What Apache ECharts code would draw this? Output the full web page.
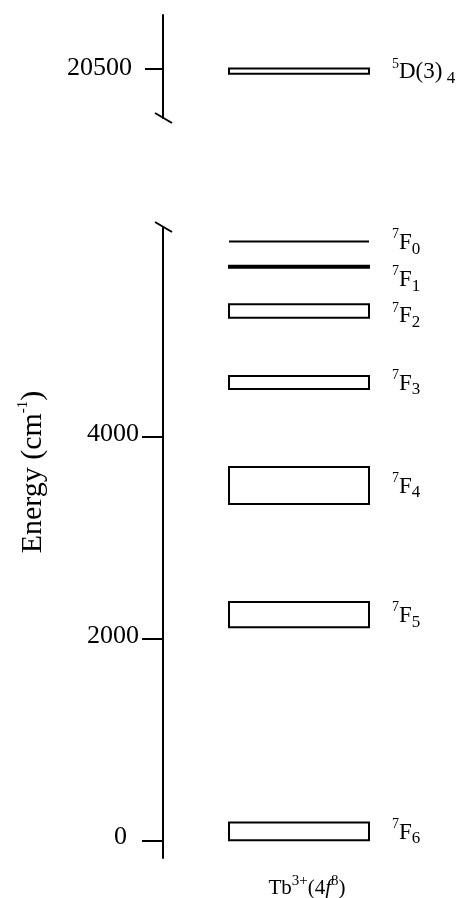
<!DOCTYPE html>
<html>
<head>
<meta charset="utf-8">
<script src="https://cdn.jsdelivr.net/npm/echarts@6/dist/echarts.min.js"></script>
<style>
  html, body { margin: 0; background: #fff; }
  #main { width: 460px; height: 898px; }
</style>
</head>
<body>
<div id="main"></div>
<script>
// Tb3+ 7F_J ground multiplet, energy spread of each level (cm-1)
const lowerJ = ['0', '1', '2', '3', '4', '5', '6'];
const lowerLow = [5940, 5680, 5185, 4478, 3337, 2114, 0];
const lowerHigh = [5940, 5700, 5318, 4607, 3704, 2365, 176];
// emitting level 5D(3)4
const upperTerm = ['5D(3)4'];
const upperLow = [20450];
const upperHigh = [20500];
const lowerTicks = [0, 2000, 4000];
const upperTicks = [20500];

const serif = '"Liberation Serif", "DejaVu Serif", serif';

const richText = {
  m: { fontSize: 23, fontFamily: serif, color: '#000', lineHeight: 30 },
  s: { fontSize: 14, fontFamily: serif, color: '#000', verticalAlign: 'top' },
  b: { fontSize: 17, fontFamily: serif, color: '#000', verticalAlign: 'bottom' }
};

function labelFor(kind, idx) {
  if (kind === 'upper') {
    return '{s|5}{m|D(3)}{b| 4}';
  }
  return '{s|7}{m|F}{b|' + lowerJ[idx] + '}';
}

function makeRender(kind) {
  return function (params, api) {
    const cs = params.coordSys;
    const top = api.coord([0, api.value(2)])[1];
    const bot = api.coord([0, api.value(1)])[1];
    const idx = api.value(3);
    const x0 = cs.x + 66, x1 = cs.x + 206;
    let shape;
    if (bot - top < 1) {
      shape = { type: 'line', shape: { x1: x0, y1: top, x2: x1, y2: top },
        style: { stroke: '#000', lineWidth: 2 } };
    } else {
      shape = { type: 'rect', shape: { x: x0, y: top, width: x1 - x0, height: bot - top },
        style: { fill: '#fff', stroke: '#000', lineWidth: 2 } };
    }
    let dy = 1;
    if (kind === 'lower' && idx === 1) dy = 13;
    if (kind === 'lower' && idx === 2) dy = 5;
    return {
      type: 'group',
      children: [shape, {
        type: 'text',
        x: cs.x + 229,
        y: (top + bot) / 2 + dy,
        style: {
          text: labelFor(kind, idx),
          rich: richText,
          fill: '#000',
          align: 'left',
          verticalAlign: 'middle'
        }
      }]
    };
  };
}

const chart = echarts.init(document.getElementById('main'));

const axisCommon = {
  type: 'value',
  axisLine: { show: true, lineStyle: { color: '#000', width: 2 } },
  splitLine: { show: false }
};

chart.setOption({
  animation: false,
  backgroundColor: '#fff',
  grid: [
    { left: 163, right: 9, top: 15, height: 103, outerBoundsMode: 'none' },
    { left: 163, right: 9, top: 228, height: 630, outerBoundsMode: 'none' }
  ],
  xAxis: [
    { gridIndex: 0, type: 'value', min: 0, max: 1, show: false },
    {
      gridIndex: 1, type: 'value', min: 0, max: 1,
      axisLine: { show: false }, axisTick: { show: false }, axisLabel: { show: false },
      splitLine: { show: false },
      name: '{m|Tb}{s|3+}{m|(4}{i|f}{s|8}{m|)}',
      nameLocation: 'middle',
      nameGap: 16,
      nameTextStyle: {
        rich: {
          m: { fontSize: 21, fontFamily: serif, color: '#000', lineHeight: 28 },
          s: { fontSize: 15, fontFamily: serif, color: '#000', verticalAlign: 'top' },
          i: { fontSize: 21, fontFamily: serif, fontStyle: 'italic', color: '#000', lineHeight: 28 }
        }
      }
    }
  ],
  yAxis: [
    Object.assign({}, axisCommon, {
      gridIndex: 0, min: 20010, max: 21032,
      axisTick: { show: true, length: 18, lineStyle: { color: '#000', width: 2 }, customValues: upperTicks },
      axisLabel: {
        customValues: upperTicks, margin: 31, fontSize: 26, fontFamily: serif, color: '#000',
        padding: [0, 0, 6, 0],
        formatter: v => String(v)
      }
    }),
    Object.assign({}, axisCommon, {
      gridIndex: 1, min: -175, max: 6075,
      axisTick: { show: true, length: 21, lineStyle: { color: '#000', width: 2 }, customValues: lowerTicks },
      axisLabel: {
        customValues: lowerTicks, margin: 24, fontSize: 26, fontFamily: serif, color: '#000',
        padding: [0, 0, 6, 0],
        formatter: v => v === 0 ? '{z|0}' : String(v),
        rich: { z: { fontSize: 26, fontFamily: serif, color: '#000', padding: [0, 12, 0, 0] } }
      }
    })
  ],
  series: [
    {
      type: 'custom',
      xAxisIndex: 0, yAxisIndex: 0,
      renderItem: makeRender('upper'),
      encode: { x: 0, y: [1, 2] },
      data: upperLow.map((lo, i) => [0, lo, upperHigh[i], i])
    },
    {
      type: 'custom',
      xAxisIndex: 1, yAxisIndex: 1,
      renderItem: makeRender('lower'),
      encode: { x: 0, y: [1, 2] },
      data: lowerLow.map((lo, i) => [0, lo, lowerHigh[i], i])
    }
  ],
  graphic: [
    // axis break marks
    { type: 'line', shape: { x1: 155, y1: 113, x2: 172, y2: 123 }, style: { stroke: '#000', lineWidth: 2 } },
    { type: 'line', shape: { x1: 155, y1: 222, x2: 172, y2: 232 }, style: { stroke: '#000', lineWidth: 2 } },
    {
      type: 'text', x: 33, y: 472, rotation: Math.PI / 2,
      style: {
        text: '{m|Energy (cm}{s|-1}{m|)}',
        align: 'center', verticalAlign: 'middle',
        rich: {
          m: { fontSize: 30, fontFamily: serif, color: '#000', lineHeight: 34 },
          s: { fontSize: 15, fontFamily: serif, color: '#000', verticalAlign: 'top' }
        }
      }
    }
  ]
});
</script>
</body>
</html>
